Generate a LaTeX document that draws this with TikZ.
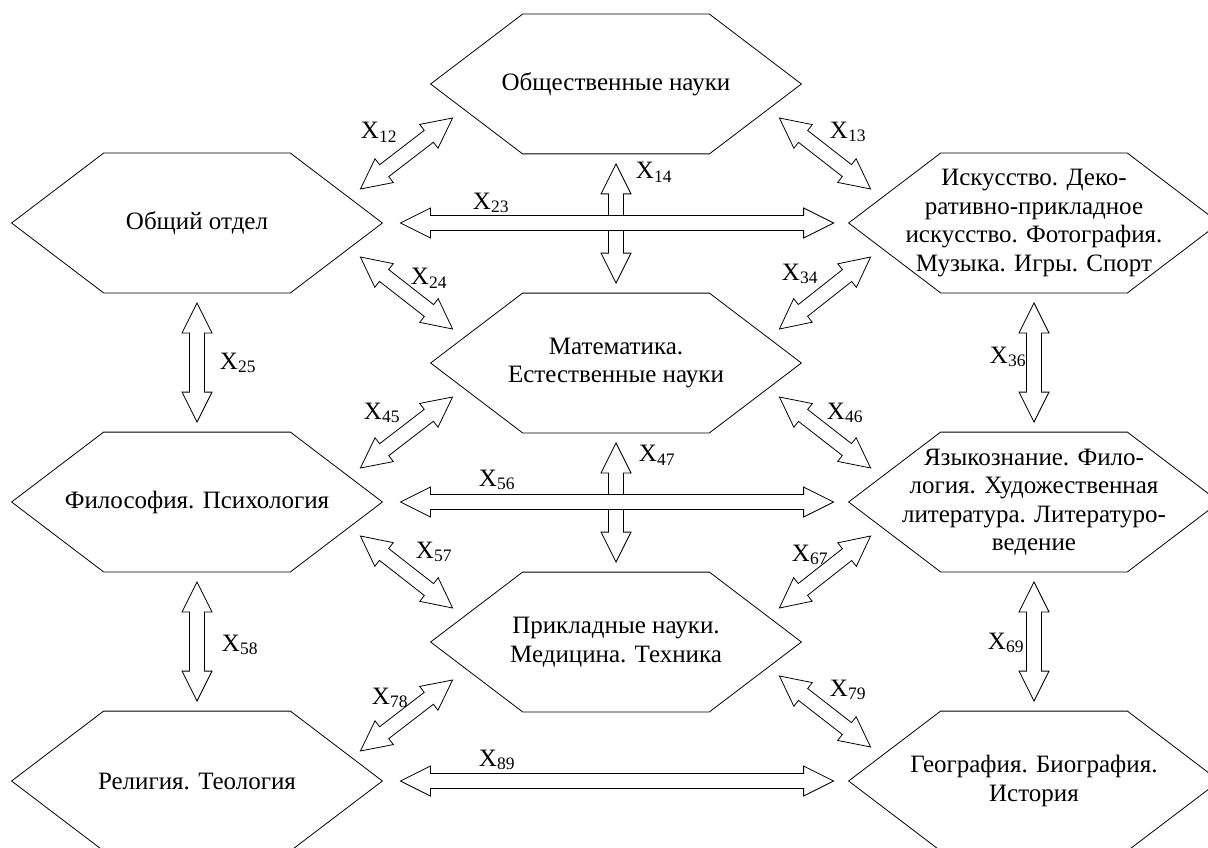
\documentclass[tikz,border=0pt]{standalone}
\usepackage{fontspec}
\setmainfont{Liberation Serif}
\usetikzlibrary{calc}

\tikzset{
  txt/.style={font=\fontsize{25}{28.5}\selectfont},
  hexnode/.style={txt, minimum width=370pt, minimum height=139pt, inner sep=0pt, align=center},
  lbl/.style={txt, inner sep=0pt},
  link/.style={draw, fill=white, to path={
    let \p1=(\tikztostart), \p2=(\tikztotarget),
        \n1={atan2(\y2-\y1,\x2-\x1)}, \n2={\n1+90}, \n3={\n1-90}
    in -- ($(\p1)+(\n1:30pt)+(\n2:15pt)$)
       -- ($(\p1)+(\n1:30pt)+(\n2:7.5pt)$)
       -- ($(\p2)-(\n1:30pt)+(\n2:7.5pt)$)
       -- ($(\p2)-(\n1:30pt)+(\n2:15pt)$)
       -- (\p2)
       -- ($(\p2)-(\n1:30pt)+(\n3:15pt)$)
       -- ($(\p2)-(\n1:30pt)+(\n3:7.5pt)$)
       -- ($(\p1)+(\n1:30pt)+(\n3:7.5pt)$)
       -- ($(\p1)+(\n1:30pt)+(\n3:15pt)$)
       -- cycle}}
}

\begin{document}
\begin{tikzpicture}[x=1pt, y=-1pt, line width=0.8pt]
  \useasboundingbox (0,0) rectangle (1208,848);

  \node[hexnode] (soc)  at (616,84)   {Общественные науки};
  \node[hexnode] (gen)  at (197,223)  {Общий отдел};
  \node[hexnode] (art)  at (1034,223) {Искусство. Деко-\\ративно-прикладное\\искусство. Фотография.\\Музыка. Игры. Спорт};
  \node[hexnode] (math) at (616,363)  {Математика.\\Естественные науки};
  \node[hexnode] (phil) at (197,502)  {Философия. Психология};
  \node[hexnode] (ling) at (1034,502) {Языкознание. Фило-\\логия. Художественная\\литература. Литературо-\\ведение};
  \node[hexnode] (appl) at (616,642)  {Прикладные науки.\\Медицина. Техника};
  \node[hexnode] (rel)  at (197,781)  {Религия. Теология};
  \node[hexnode] (geo)  at (1034,781) {География. Биография.\\История};

  % hexagon outlines
  \foreach \h in {soc,gen,art,math,phil,ling,appl,rel,geo}
    \draw (\h.west) -- ([xshift=92pt]\h.north west) -- ([xshift=-92pt]\h.north east)
      -- (\h.east) -- ([xshift=-92pt]\h.south east) -- ([xshift=92pt]\h.south west) -- cycle;

  % vertical links
  \draw[link] ([shift={(0,10)}]soc.south) to ([shift={(0,-10)}]math.north);
  \draw[link] ([shift={(0,10)}]math.south) to ([shift={(0,-10)}]appl.north);
  \draw[link] ([shift={(0,10)}]gen.south) to ([shift={(0,-10)}]phil.north);
  \draw[link] ([shift={(0,10)}]phil.south) to ([shift={(0,-10)}]rel.north);
  \draw[link] ([shift={(0,10)}]art.south) to ([shift={(0,-10)}]ling.north);
  \draw[link] ([shift={(0,10)}]ling.south) to ([shift={(0,-10)}]geo.north);

  % horizontal links
  \draw[link] ([shift={(18,0)}]gen.east) to ([shift={(-15,0)}]art.west);
  \draw[link] ([shift={(18,0)}]phil.east) to ([shift={(-15,0)}]ling.west);
  \draw[link] ([shift={(18,0)}]rel.east) to ([shift={(-15,0)}]geo.west);

  % diagonal links
  \draw[link] ([shift={(-22,-34)}]gen.east) to ([shift={(22,34)}]soc.west);
  \draw[link] ([shift={(-22,34)}]soc.east) to ([shift={(22,-34)}]art.west);
  \draw[link] ([shift={(-22,34)}]gen.east) to ([shift={(22,-34)}]math.west);
  \draw[link] ([shift={(-22,-34)}]math.east) to ([shift={(22,34)}]art.west);
  \draw[link] ([shift={(-22,-34)}]phil.east) to ([shift={(22,34)}]math.west);
  \draw[link] ([shift={(-22,34)}]math.east) to ([shift={(22,-34)}]ling.west);
  \draw[link] ([shift={(-22,34)}]phil.east) to ([shift={(22,-34)}]appl.west);
  \draw[link] ([shift={(-22,-34)}]appl.east) to ([shift={(22,34)}]ling.west);
  \draw[link] ([shift={(-22,-30)}]rel.east) to ([shift={(22,38)}]appl.west);
  \draw[link] ([shift={(-22,34)}]appl.east) to ([shift={(22,-34)}]geo.west);

  % labels
  \node[lbl] (x12) at (379,132)  {X\textsubscript{12}};
  \node[lbl] (x13) at (848,132)  {X\textsubscript{13}};
  \node[lbl] (x14) at (654,172)  {X\textsubscript{14}};
  \node[lbl] (x23) at (491,203)  {X\textsubscript{23}};
  \node[lbl] (x24) at (429,278)  {X\textsubscript{24}};
  \node[lbl] (x34) at (800,274)  {X\textsubscript{34}};
  \node[lbl] (x25) at (238,363)  {X\textsubscript{25}};
  \node[lbl] (x36) at (1008,357) {X\textsubscript{36}};
  \node[lbl] (x45) at (382,413)  {X\textsubscript{45}};
  \node[lbl] (x46) at (845,413)  {X\textsubscript{46}};
  \node[lbl] (x47) at (657,455)  {X\textsubscript{47}};
  \node[lbl] (x56) at (497,480)  {X\textsubscript{56}};
  \node[lbl] (x57) at (434,552)  {X\textsubscript{57}};
  \node[lbl] (x67) at (810,555)  {X\textsubscript{67}};
  \node[lbl] (x58) at (240,645)  {X\textsubscript{58}};
  \node[lbl] (x69) at (1006,643) {X\textsubscript{69}};
  \node[lbl] (x78) at (390,698)  {X\textsubscript{78}};
  \node[lbl] (x79) at (848,690)  {X\textsubscript{79}};
  \node[lbl] (x89) at (497,760)  {X\textsubscript{89}};
\end{tikzpicture}
\end{document}
